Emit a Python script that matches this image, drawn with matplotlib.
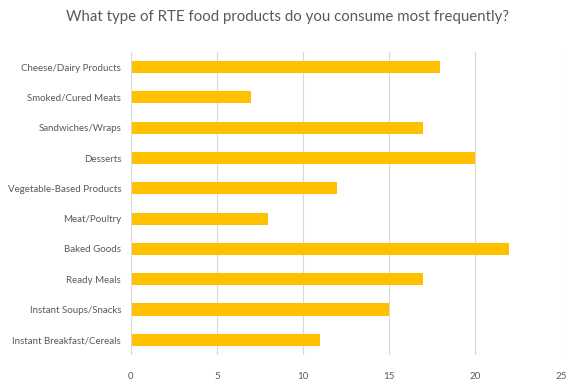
import matplotlib
matplotlib.use("Agg")
import matplotlib.pyplot as plt

categories = ["Cheese/Dairy Products", "Smoked/Cured Meats", "Sandwiches/Wraps", "Desserts",
              "Vegetable-Based Products", "Meat/Poultry", "Baked Goods", "Ready Meals",
              "Instant Soups/Snacks", "Instant Breakfast/Cereals"]
values = [18, 7, 17, 20, 12, 8, 22, 17, 15, 11]
xticks = [0, 5, 10, 15, 20, 25]
title = "What type of RTE food products do you consume most frequently?"

plt.rcParams['font.family'] = ['Lato', 'DejaVu Sans']
fig = plt.figure(figsize=(5.74, 3.85), dpi=100)
ax = fig.add_axes([0.228, 0.078, 0.749, 0.787])
ypos = list(range(len(categories)))
ax.barh(ypos, values, height=0.4, color="#FFC000", zorder=3)
ax.set_ylim(len(categories) - 0.5, -0.5)
ax.set_xlim(0, 25)
ax.set_xticks(xticks)
ax.set_yticks(ypos)
ax.set_yticklabels(categories)
ax.grid(axis='x', color='#D9D9D9', linewidth=0.8, zorder=0)
for s in ax.spines.values():
    s.set_visible(False)
ax.axvline(0, color='#D9D9D9', linewidth=0.8, zorder=4)
ax.tick_params(axis='both', length=0, colors='#595959', labelsize=7)
ax.tick_params(axis='x', pad=12)
ax.tick_params(axis='y', pad=7)
fig.suptitle(title, x=0.5, y=0.975, fontsize=10.8, color='#595959')
fig.savefig("out.png", dpi=100)
